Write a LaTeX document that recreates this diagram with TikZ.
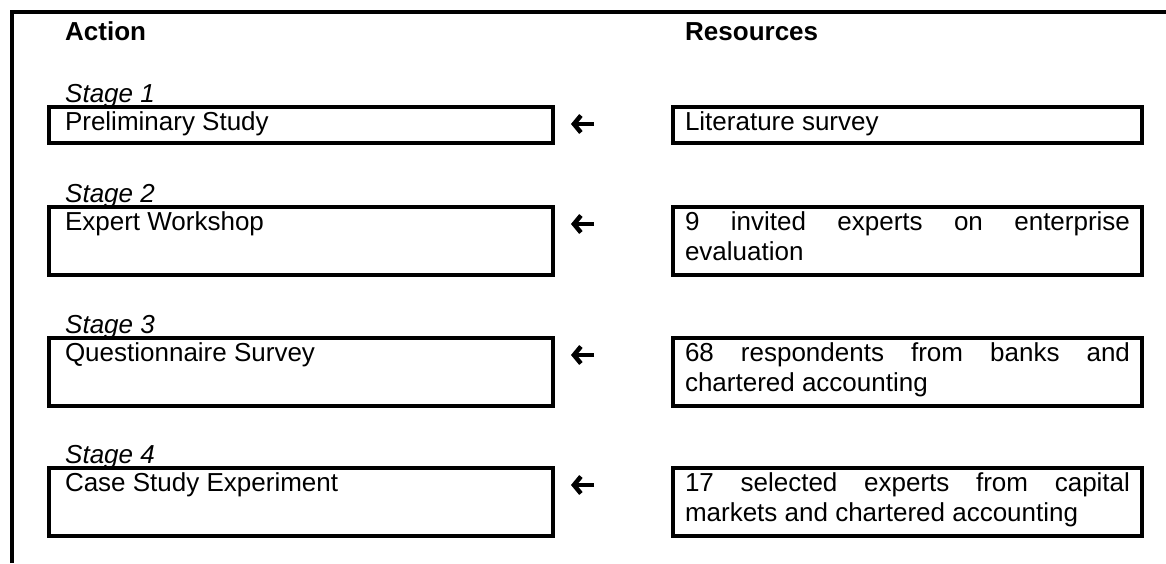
\documentclass[tikz,border=0pt]{standalone}
\usepackage{fontspec}
\setmainfont{Liberation Sans}
\usetikzlibrary{arrows.meta}

\tolerance=10000
\hyphenpenalty=10000

\tikzset{
    stagebox/.style={draw, line width=4.5pt, outer sep=0pt, anchor=north west,
        inner ysep=4pt, text height=19.5pt, align=justify},
    actbox/.style={stagebox, inner xsep=16pt, text width=472pt},
    resbox/.style={stagebox, inner xsep=12pt, text width=445pt},
    oneline/.style={text depth=8.5pt},
    twoline/.style={text depth=40.5pt},
    stagelabel/.style={anchor=base west, inner sep=0pt, font=\fontsize{26}{30}\selectfont\itshape},
    heading/.style={anchor=base west, inner sep=0pt, font=\fontsize{26}{30}\selectfont\bfseries},
    feeds/.style={line width=4pt, -{Straight Barb[length=7pt, width=17pt, line width=4.5pt]}}
}

\begin{document}
\begin{tikzpicture}[x=1pt, y=1pt, font=\fontsize{26}{30}\selectfont]
    \useasboundingbox (0,0) rectangle (1166,-563);

    % frame
    \draw[line width=4pt] (12,-563) -- (12,-12) -- (1166,-12);

    \node[heading] (acthead) at (65,-40) {Action};
    \node[heading] (reshead) at (685,-40) {Resources};

    % action column
    \node[actbox, oneline] (act1) at (49,-107) {Preliminary Study};
    \node[actbox, twoline] (act2) at (49,-207) {Expert Workshop};
    \node[actbox, twoline] (act3) at (49,-338) {Questionnaire Survey};
    \node[actbox, twoline] (act4) at (49,-468) {Case Study Experiment};

    % resources column
    \node[resbox, oneline] (res1) at (673,-107) {Literature survey};
    \node[resbox, twoline] (res2) at (673,-207) {9 invited experts on enterprise\linebreak evaluation};
    \node[resbox, twoline] (res3) at (673,-338) {68 respondents from banks and\linebreak chartered accounting};
    \node[resbox, twoline] (res4) at (673,-468) {17 selected experts from capital\linebreak markets and chartered accounting};

    \foreach \i in {1,...,4} {
        \node[stagelabel] (stage\i) at ([xshift=16pt, yshift=5pt]act\i.north west) {Stage \i};
        \draw[feeds] ([xshift=-79pt, yshift=-17pt]res\i.north west) -- ([xshift=18pt, yshift=-17pt]act\i.north east);
    }
\end{tikzpicture}
\end{document}
